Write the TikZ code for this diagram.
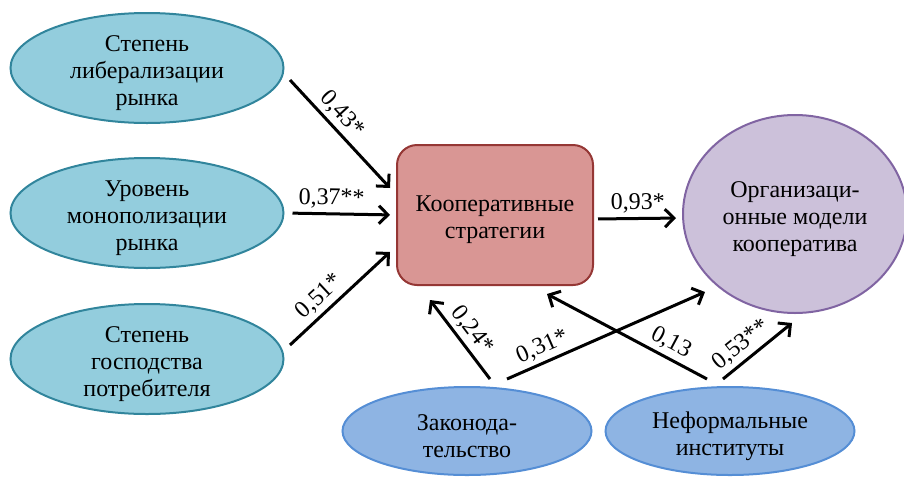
\documentclass[tikz,border=0pt]{standalone}
\usepackage{fontspec}
\setmainfont{Liberation Serif}
\usetikzlibrary{shapes.geometric,arrows.meta}

\definecolor{factfill}{HTML}{93CDDD}
\definecolor{factline}{HTML}{31859C}
\definecolor{stratfill}{HTML}{D99694}
\definecolor{stratline}{HTML}{953735}
\definecolor{modfill}{HTML}{CCC1DA}
\definecolor{modline}{HTML}{8064A2}
\definecolor{instfill}{HTML}{8EB4E3}
\definecolor{instline}{HTML}{558ED5}

\tikzset{
	txt/.style={font=\fontsize{12}{13.5}\selectfont, align=center},
	inside/.style={txt, yshift=-2.5pt},
	factor/.style={ellipse, draw=factline, fill=factfill, line width=1pt, minimum width=136.5pt, minimum height=55pt},
	inst/.style={ellipse, draw=instline, fill=instfill, line width=1pt, minimum width=124.5pt, minimum height=44pt},
	strat/.style={rectangle, rounded corners=10pt, draw=stratline, fill=stratfill, line width=1pt, minimum width=98pt, minimum height=70pt},
	model/.style={ellipse, draw=modline, fill=modfill, line width=1pt, minimum width=112pt, minimum height=99pt},
	arr/.style={-{Straight Barb[length=4.5pt,width=9pt]}, line width=1.5pt},
	coef/.style={txt, sloped, above, inner sep=2pt}
}

\begin{document}
\begin{tikzpicture}[x=0.5pt, y=-0.5pt]
	\useasboundingbox (0,0) rectangle (904,477);

	\node[factor, label={[inside]center:Степень\\либерализации\\рынка}]        (lib)  at (147, 68)  {};
	\node[factor, label={[inside]center:Уровень\\монополизации\\рынка}]        (mono) at (147, 213) {};
	\node[factor, label={[inside]center:Степень\\господства\\потребителя}]     (cons) at (147, 359) {};
	\node[strat,  label={[inside]center:Кооперативные\\стратегии}]             (coop) at (495, 215) {};
	\node[model,  label={[inside]center:Организаци-\\онные модели\\кооператива}] (org) at (795, 214) {};
	\node[inst,   label={[inside]center:Законода-\\тельство}]                  (law)  at (467, 431) {};
	\node[inst,   label={[inside]center:Неформальные\\институты}]              (inf)  at (730, 431) {};

	% free ends of the slanted arrows
	\coordinate (lib-o)  at (290, 80);
	\coordinate (coop-a) at (390, 188);
	\coordinate (cons-o) at (290, 345);
	\coordinate (coop-c) at (390, 252);
	\coordinate (law-a)  at (490, 379);
	\coordinate (law-b)  at (507, 379);
	\coordinate (inf-a)  at (707, 379);
	\coordinate (inf-b)  at (723, 379);
	\coordinate (coop-d) at (430, 300);
	\coordinate (coop-e) at (547, 294);
	\coordinate (org-b)  at (705, 292);
	\coordinate (org-c)  at (792, 323);

	\path[arr] (lib-o) edge node[coef, pos=0.41]{0,43*} (coop-a);
	\path[arr] (mono.east) edge[shorten <=4pt, shorten >=3pt] node[coef, pos=0.42]{0,37**} (coop.west);
	\path[arr] (cons-o) edge node[coef, pos=0.40]{0,51*} (coop-c);
	\path[arr] ([yshift=-2pt]coop.east) edge[shorten <=2pt, shorten >=3pt] node[coef, pos=0.5]{0,93*} ([yshift=-2pt]org.west);
	\path[arr] (law-a) edge node[coef, pos=0.5]{0,24*} (coop-d);
	\path[arr] (law-b) edge node[coef, pos=0.21]{0,31*} (org-b);
	\path[arr] (inf-a) edge node[coef, pos=0.27]{0,13} (coop-e);
	\path[arr] (inf-b) edge node[coef, pos=0.40]{0,53**} (org-c);
\end{tikzpicture}
\end{document}
